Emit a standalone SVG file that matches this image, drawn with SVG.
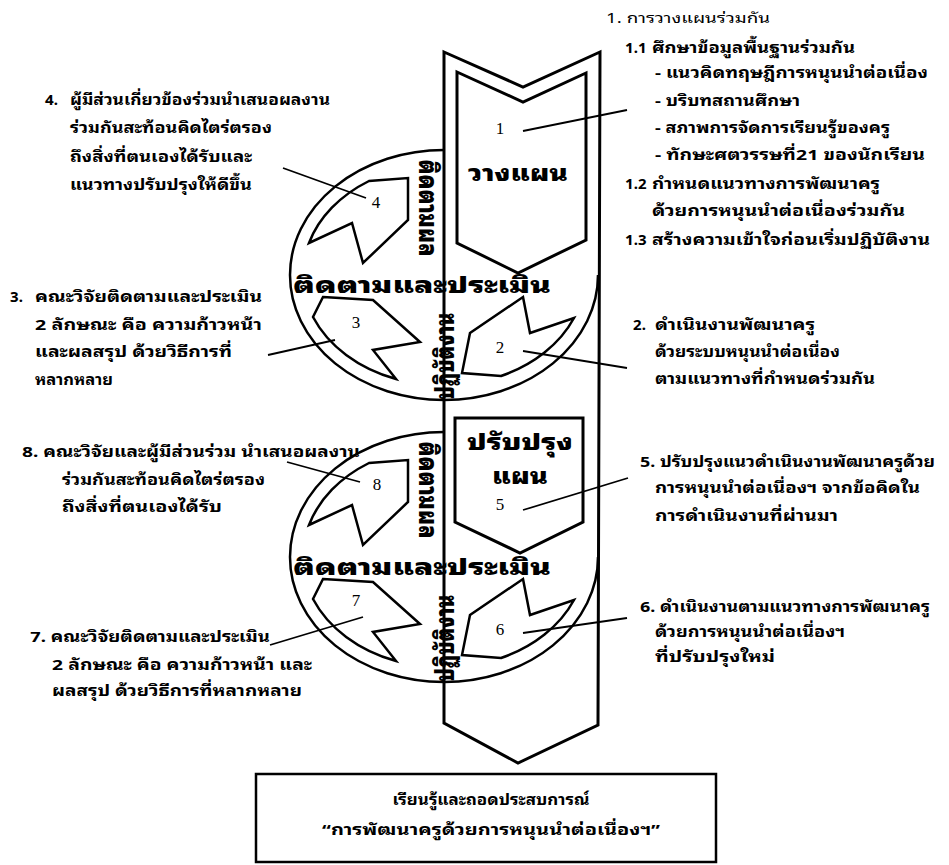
<svg xmlns="http://www.w3.org/2000/svg" width="949" height="865" viewBox="0 0 949 865">
<style>
.bg{fill:#fff}
.sh{fill:none;stroke:#000;stroke-width:3;stroke-linejoin:miter}
.el{fill:none;stroke:#000;stroke-width:2.5}
.ar{fill:#fff;stroke:#000;stroke-width:2.5;stroke-linejoin:miter}
.ld{fill:none;stroke:#000;stroke-width:1.8}
.t{font-family:"Noto Sans Thai Looped","Noto Sans Thai","Noto Sans","DejaVu Sans",sans-serif;font-weight:bold;font-size:15px;fill:#000}
.tn{font-family:"Noto Sans Thai Looped","Noto Sans Thai","Noto Sans","DejaVu Sans",sans-serif;font-weight:normal;font-size:14px;fill:#000}
.big{font-family:"Noto Sans Thai Looped","Noto Sans Thai","Noto Sans","DejaVu Sans",sans-serif;font-weight:900;font-size:23px;fill:#000}
.rot{font-family:"Noto Sans Thai Looped","Noto Sans Thai","Noto Sans","DejaVu Sans",sans-serif;font-weight:900;font-size:25px;fill:#000;text-anchor:middle}
.num{font-family:"Liberation Serif",serif;font-size:17px;fill:#000;text-anchor:middle}
</style>
<rect class="bg" width="949" height="865"/>

<g id="band">
<path class="sh" d="M444,52 L523,87 L600,52 L598,725 L518,763 L444,723 Z"/>
</g>

<g id="cycle1">
<path class="el" d="M598,275 A154 125 0 1 1 444,150"/>
<path class="ar" d="M309,243 A141 111 0 0 1 369,181 L408,178 L408,220 L363,263 L352,223 Z"/>
<path class="ar" d="M323,297 L373,300 L420,342 L373,350 L396,379 A141 111 0 0 1 313,317 Z"/>
<path class="ar" d="M523,297 L530,333 L574,318 A141 111 0 0 1 501,376 L462,373 L470,333 Z"/>
<text class="big" x="422" y="293" text-anchor="middle" textLength="258" lengthAdjust="spacingAndGlyphs">ติดตามและประเมิน</text>
<text class="rot" transform="translate(427,208) rotate(90)" x="0" y="8" textLength="97" lengthAdjust="spacingAndGlyphs">ติดตามผล</text>
<text class="rot" transform="translate(446,356) rotate(-90)" x="0" y="8" textLength="87" lengthAdjust="spacingAndGlyphs">ปฏิบัติงาน</text>
<text class="num" x="376" y="208">4</text>
<text class="num" x="356" y="328">3</text>
<text class="num" x="500" y="353">2</text>
</g>

<g id="cycle2">
<path class="el" d="M598,557 A154 125 0 1 1 444,432"/>
<path class="ar" d="M309,525 A141 111 0 0 1 369,463 L408,460 L408,502 L363,545 L352,505 Z"/>
<path class="ar" d="M323,579 L373,582 L420,624 L373,632 L396,661 A141 111 0 0 1 313,599 Z"/>
<path class="ar" d="M523,579 L530,615 L574,600 A141 111 0 0 1 501,658 L462,655 L470,615 Z"/>
<text class="big" x="422" y="575" text-anchor="middle" textLength="258" lengthAdjust="spacingAndGlyphs">ติดตามและประเมิน</text>
<text class="rot" transform="translate(427,490) rotate(90)" x="0" y="8" textLength="97" lengthAdjust="spacingAndGlyphs">ติดตามผล</text>
<text class="rot" transform="translate(446,638) rotate(-90)" x="0" y="8" textLength="87" lengthAdjust="spacingAndGlyphs">ปฏิบัติงาน</text>
<text class="num" x="377" y="490">8</text>
<text class="num" x="356" y="606">7</text>
<text class="num" x="500" y="635">6</text>
</g>

<g id="plan">
<path class="sh" d="M457,72 L523,102 L586,73 L586,240 L518,273 L457,243 Z"/>
<text class="big" x="518" y="181" text-anchor="middle" textLength="100" lengthAdjust="spacingAndGlyphs">วางแผน</text>
<text class="num" x="500" y="134">1</text>
</g>

<g id="improve">
<path class="sh" d="M455,418 L583,418 L583,522 L520,553 L455,522 Z"/>
<text class="big" x="520" y="450" text-anchor="middle" textLength="106" lengthAdjust="spacingAndGlyphs">ปรับปรุง</text>
<text class="big" x="520" y="484" text-anchor="middle" textLength="56" lengthAdjust="spacingAndGlyphs">แผน</text>
<text class="num" x="500" y="510">5</text>
</g>

<g id="connectors">
<line class="ld" x1="523" y1="131" x2="627" y2="110"/>
<line class="ld" x1="283" y1="168" x2="366" y2="198"/>
<line class="ld" x1="268" y1="355" x2="335" y2="340"/>
<line class="ld" x1="523" y1="351" x2="627" y2="368"/>
<line class="ld" x1="287" y1="462" x2="360" y2="482"/>
<line class="ld" x1="523" y1="510" x2="628" y2="478"/>
<line class="ld" x1="270" y1="645" x2="363" y2="617"/>
<line class="ld" x1="523" y1="633" x2="627" y2="618"/>
</g>

<g id="note1">
<text class="tn" x="606" y="23" textLength="164" lengthAdjust="spacingAndGlyphs">1. การวางแผนร่วมกัน</text>
<text class="t" x="625" y="53">1.1</text>
<text class="t" x="652" y="53" textLength="203" lengthAdjust="spacingAndGlyphs">ศึกษาข้อมูลพื้นฐานร่วมกัน</text>
<text class="t" x="655" y="78" textLength="273" lengthAdjust="spacingAndGlyphs">- แนวคิดทฤษฎีการหนุนนำต่อเนื่อง</text>
<text class="t" x="655" y="106" textLength="145" lengthAdjust="spacingAndGlyphs">- บริบทสถานศึกษา</text>
<text class="t" x="655" y="133" textLength="235" lengthAdjust="spacingAndGlyphs">- สภาพการจัดการเรียนรู้ของครู</text>
<text class="t" x="655" y="160" textLength="270" lengthAdjust="spacingAndGlyphs">- ทักษะศตวรรษที่21 ของนักเรียน</text>
<text class="t" x="625" y="189">1.2</text>
<text class="t" x="652" y="189" textLength="228" lengthAdjust="spacingAndGlyphs">กำหนดแนวทางการพัฒนาครู</text>
<text class="t" x="652" y="216" textLength="253" lengthAdjust="spacingAndGlyphs">ด้วยการหนุนนำต่อเนื่องร่วมกัน</text>
<text class="t" x="625" y="245">1.3</text>
<text class="t" x="652" y="245" textLength="278" lengthAdjust="spacingAndGlyphs">สร้างความเข้าใจก่อนเริ่มปฏิบัติงาน</text>
</g>

<g id="note4">
<text class="t" x="45" y="105">4.</text>
<text class="t" x="70" y="105" textLength="260" lengthAdjust="spacingAndGlyphs">ผู้มีส่วนเกี่ยวข้องร่วมนำเสนอผลงาน</text>
<text class="t" x="70" y="133" textLength="202" lengthAdjust="spacingAndGlyphs">ร่วมกันสะท้อนคิดไตร่ตรอง</text>
<text class="t" x="70" y="162" textLength="182" lengthAdjust="spacingAndGlyphs">ถึงสิ่งที่ตนเองได้รับและ</text>
<text class="t" x="70" y="190" textLength="182" lengthAdjust="spacingAndGlyphs">แนวทางปรับปรุงให้ดีขึ้น</text>
</g>

<g id="note3">
<text class="t" x="10" y="302">3.</text>
<text class="t" x="35" y="302" textLength="227" lengthAdjust="spacingAndGlyphs">คณะวิจัยติดตามและประเมิน</text>
<text class="t" x="35" y="330" textLength="227" lengthAdjust="spacingAndGlyphs">2 ลักษณะ คือ ความก้าวหน้า</text>
<text class="t" x="35" y="357" textLength="197" lengthAdjust="spacingAndGlyphs">และผลสรุป ด้วยวิธีการที่</text>
<text class="t" x="35" y="385" textLength="78" lengthAdjust="spacingAndGlyphs">หลากหลาย</text>
</g>

<g id="note8">
<text class="t" x="22" y="457" textLength="338" lengthAdjust="spacingAndGlyphs">8. คณะวิจัยและผู้มีส่วนร่วม นำเสนอผลงาน</text>
<text class="t" x="62" y="485" textLength="203" lengthAdjust="spacingAndGlyphs">ร่วมกันสะท้อนคิดไตร่ตรอง</text>
<text class="t" x="62" y="512" textLength="160" lengthAdjust="spacingAndGlyphs">ถึงสิ่งที่ตนเองได้รับ</text>
</g>

<g id="note7">
<text class="t" x="30" y="642" textLength="240" lengthAdjust="spacingAndGlyphs">7. คณะวิจัยติดตามและประเมิน</text>
<text class="t" x="52" y="670" textLength="260" lengthAdjust="spacingAndGlyphs">2 ลักษณะ คือ ความก้าวหน้า และ</text>
<text class="t" x="52" y="696" textLength="250" lengthAdjust="spacingAndGlyphs">ผลสรุป ด้วยวิธีการที่หลากหลาย</text>
</g>

<g id="note2">
<text class="t" x="633" y="330">2.</text>
<text class="t" x="655" y="330" textLength="160" lengthAdjust="spacingAndGlyphs">ดำเนินงานพัฒนาครู</text>
<text class="t" x="655" y="357" textLength="185" lengthAdjust="spacingAndGlyphs">ด้วยระบบหนุนนำต่อเนื่อง</text>
<text class="t" x="655" y="384" textLength="220" lengthAdjust="spacingAndGlyphs">ตามแนวทางที่กำหนดร่วมกัน</text>
</g>

<g id="note5">
<text class="t" x="640" y="467" textLength="295" lengthAdjust="spacingAndGlyphs">5. ปรับปรุงแนวดำเนินงานพัฒนาครูด้วย</text>
<text class="t" x="655" y="493" textLength="265" lengthAdjust="spacingAndGlyphs">การหนุนนำต่อเนื่องฯ จากข้อคิดใน</text>
<text class="t" x="655" y="521" textLength="183" lengthAdjust="spacingAndGlyphs">การดำเนินงานที่ผ่านมา</text>
</g>

<g id="note6">
<text class="t" x="640" y="612" textLength="290" lengthAdjust="spacingAndGlyphs">6. ดำเนินงานตามแนวทางการพัฒนาครู</text>
<text class="t" x="655" y="637" textLength="190" lengthAdjust="spacingAndGlyphs">ด้วยการหนุนนำต่อเนื่องฯ</text>
<text class="t" x="655" y="662" textLength="120" lengthAdjust="spacingAndGlyphs">ที่ปรับปรุงใหม่</text>
</g>

<g id="result">
<rect x="256" y="774" width="460" height="88" fill="#fff" stroke="#000" stroke-width="2.5"/>
<text class="t" x="491" y="805" text-anchor="middle" textLength="197" lengthAdjust="spacingAndGlyphs">เรียนรู้และถอดประสบการณ์</text>
<text class="t" x="491" y="835" text-anchor="middle" textLength="338" lengthAdjust="spacingAndGlyphs">“การพัฒนาครูด้วยการหนุนนำต่อเนื่องฯ”</text>
</g>
</svg>
